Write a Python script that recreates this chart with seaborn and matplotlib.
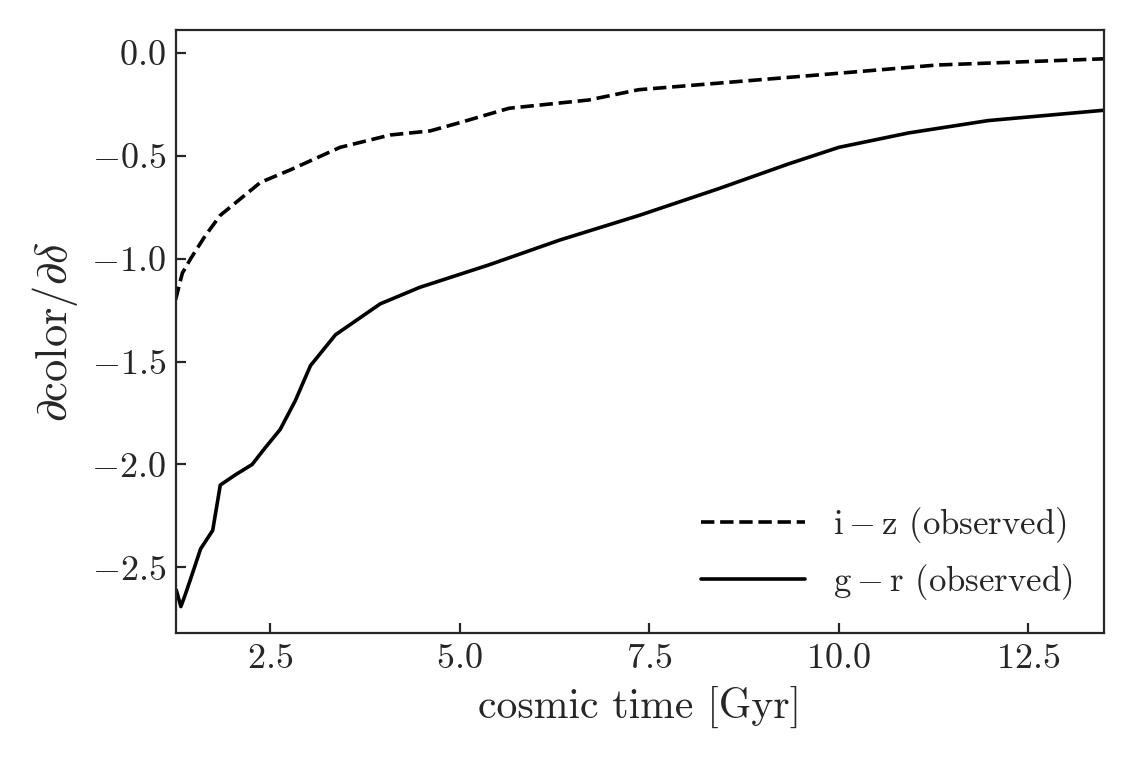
import matplotlib
matplotlib.use("Agg")
import matplotlib.pyplot as plt
import seaborn as sns
import numpy as np
import pandas as pd

iz_t = [1.25, 1.34, 1.45, 1.64, 1.84, 2.37, 2.76, 3.42, 4.08, 4.61, 5.0, 5.65, 6.7, 7.36, 8.68, 10.0, 11.3, 13.49]
iz_v = [-1.20, -1.07, -1.00, -0.89, -0.79, -0.63, -0.57, -0.46, -0.40, -0.38, -0.34, -0.27, -0.23, -0.18, -0.14, -0.10, -0.06, -0.03]
gr_t = [1.26, 1.32, 1.38, 1.49, 1.58, 1.74, 1.84, 2.04, 2.26, 2.43, 2.63, 2.83, 3.03, 3.36, 3.95, 4.47, 5.39, 6.32, 7.37, 8.42, 9.34, 10.0, 10.92, 11.97, 13.49]
gr_v = [-2.61, -2.69, -2.63, -2.51, -2.41, -2.32, -2.10, -2.05, -2.00, -1.92, -1.83, -1.69, -1.52, -1.37, -1.22, -1.14, -1.03, -0.91, -0.79, -0.66, -0.54, -0.46, -0.39, -0.33, -0.28]

sns.set_style("ticks")
plt.rcParams['font.family'] = ['cmr10', 'DejaVu Serif']
plt.rcParams['mathtext.fontset'] = 'cm'
plt.rcParams['axes.formatter.use_mathtext'] = True
plt.rcParams['axes.unicode_minus'] = True

fig, ax = plt.subplots(figsize=(5.67, 3.79), dpi=200)
sns.lineplot(x=iz_t, y=iz_v, ax=ax, color='black', linestyle='--', lw=1.3,
             label=r'$\mathrm{i-z}$ (observed)')
sns.lineplot(x=gr_t, y=gr_v, ax=ax, color='black', linestyle='-', lw=1.3,
             label=r'$\mathrm{g-r}$ (observed)')
ax.set_xlim(1.25, 13.5)
ax.set_ylim(-2.82, 0.11)
ax.set_xticks([2.5, 5.0, 7.5, 10.0, 12.5])
ax.set_yticks([0.0, -0.5, -1.0, -1.5, -2.0, -2.5])
ax.tick_params(direction='in', labelsize=13, top=False, right=False)
ax.set_xlabel('cosmic time [Gyr]', fontsize=15)
ax.set_ylabel(r'$\partial\mathrm{color}/\partial\delta$', fontsize=16)
ax.legend(loc='lower right', frameon=False, fontsize=12.5, handlelength=3)
for s in ax.spines.values():
    s.set_linewidth(0.8)
fig.tight_layout()
fig.savefig('out.png', dpi=200)
